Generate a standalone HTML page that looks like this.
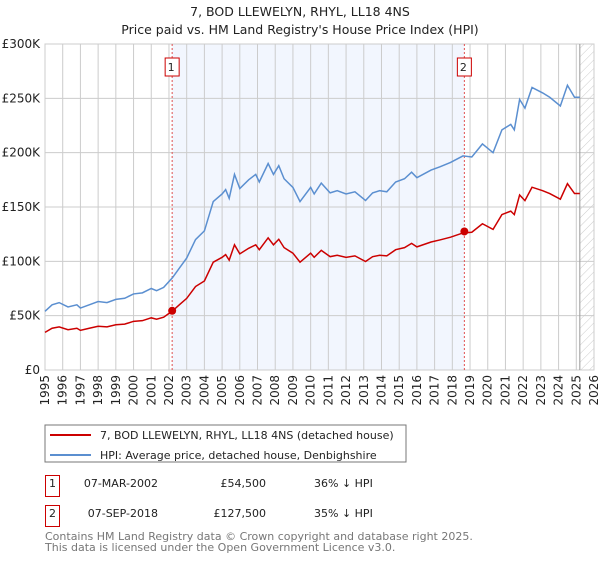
<!DOCTYPE html>
<html><head><meta charset="utf-8"><style>
body{margin:0;background:#fff;font-family:"Liberation Sans","DejaVu Sans",sans-serif;}
svg text{font-family:"DejaVu Sans","Liberation Sans",sans-serif;}
</style></head><body>
<svg id="chart" width="600" height="560" viewBox="0 0 600 560" xmlns="http://www.w3.org/2000/svg">
<defs><pattern id="hatch" width="6" height="6" patternUnits="userSpaceOnUse" patternTransform="rotate(45)"><line x1="0" y1="0" x2="0" y2="6" stroke="#ccc" stroke-width="1"/></pattern></defs>
<text x="300" y="16" text-anchor="middle" font-size="12.5" fill="#222">7, BOD LLEWELYN, RHYL, LL18 4NS</text>
<text x="300" y="34" text-anchor="middle" font-size="12.5" fill="#222">Price paid vs. HM Land Registry's House Price Index (HPI)</text>
<g id="plot"></g>
<rect x="45" y="425" width="361" height="37" fill="#fff" stroke="#777"/>
<line x1="50" y1="435" x2="91" y2="435" stroke="#cc0000" stroke-width="2"/>
<text x="100" y="439" font-size="11" fill="#222">7, BOD LLEWELYN, RHYL, LL18 4NS (detached house)</text>
<line x1="50" y1="455" x2="91" y2="455" stroke="#5b8fd0" stroke-width="2"/>
<text x="100" y="459" font-size="11" fill="#222">HPI: Average price, detached house, Denbighshire</text>
<g>
<rect x="45.5" y="475.5" width="14" height="21" fill="#fff" stroke="#cc0000"/>
<text x="52.5" y="487" text-anchor="middle" font-size="11" fill="#222">1</text>
<text x="158" y="487" text-anchor="end" font-size="11" fill="#222">07-MAR-2002</text>
<text x="266" y="487" text-anchor="end" font-size="11" fill="#222">£54,500</text>
<text x="314" y="487" font-size="11" fill="#222">36% ↓ HPI</text>
</g>
<g>
<rect x="45.5" y="505.5" width="14" height="21" fill="#fff" stroke="#cc0000"/>
<text x="52.5" y="517" text-anchor="middle" font-size="11" fill="#222">2</text>
<text x="158" y="517" text-anchor="end" font-size="11" fill="#222">07-SEP-2018</text>
<text x="266" y="517" text-anchor="end" font-size="11" fill="#222">£127,500</text>
<text x="314" y="517" font-size="11" fill="#222">35% ↓ HPI</text>
</g>
<text x="45" y="540" font-size="11" fill="#777">Contains HM Land Registry data © Crown copyright and database right 2025.</text>
<text x="45" y="551" font-size="11" fill="#777">This data is licensed under the Open Government Licence v3.0.</text>
</svg>
<script>
const hpiYears=[1995.0,1995.4,1995.8,1996.3,1996.8,1997.0,1997.5,1998.0,1998.5,1999.0,1999.5,2000.0,2000.5,2001.0,2001.3,2001.7,2002.2,2002.6,2003.0,2003.5,2004.0,2004.5,2005.0,2005.2,2005.4,2005.7,2006.0,2006.5,2006.9,2007.1,2007.6,2007.9,2008.2,2008.5,2009.0,2009.4,2010.0,2010.2,2010.6,2011.1,2011.5,2012.0,2012.5,2013.1,2013.5,2013.9,2014.3,2014.8,2015.3,2015.7,2016.0,2016.8,2017.3,2017.9,2018.6,2019.1,2019.7,2020.3,2020.8,2021.3,2021.5,2021.8,2022.1,2022.5,2023.1,2023.5,2024.1,2024.5,2024.9,2025.2];
const hpiValues=[54,60,62,58,60,57,60,63,62,65,66,70,71,75,73,76,85,94,103,120,128,155,162,166,158,180,167,175,180,173,190,180,188,176,168,155,168,162,172,163,165,162,164,156,163,165,164,173,176,182,177,184,187,191,197,196,208,200,221,226,221,249,241,260,255,251,243,262,251,251];
const propertyValues=[34.6,38.4,39.7,37.1,38.4,36.5,38.4,40.3,39.7,41.6,42.2,44.8,45.4,48,46.7,48.6,54.4,60.2,65.9,76.8,81.9,99.2,103.7,106.2,101.1,115.2,106.9,112,115.2,110.7,121.6,115.2,120.3,112.6,107.5,99.2,107.5,103.7,110.1,104.3,105.6,103.7,105,99.8,104.3,105.6,105,110.7,112.6,116.5,113.3,117.8,119.7,122.2,126.1,126.8,134.6,129.4,143,146.2,143,161.1,155.9,168.2,165,162.4,157.2,171.5,162.4,162.4];
const saleYears=[2002.18,2018.68];
const saleValues=[54.5,127.5];
const saleLabels=["1","2"];
const yTicks=[0,50,100,150,200,250,300];
const yTickLabels=["£0","£50K","£100K","£150K","£200K","£250K","£300K"];
const xTicks=[1995,1996,1997,1998,1999,2000,2001,2002,2003,2004,2005,2006,2007,2008,2009,2010,2011,2012,2013,2014,2015,2016,2017,2018,2019,2020,2021,2022,2023,2024,2025,2026];

const X0=45,X1=594,Y0=370,Y1=44;
const xs=y=>X0+(y-1995)/(2026-1995)*(X1-X0);
const ys=v=>Y0-v/300*(Y0-Y1);
const NS="http://www.w3.org/2000/svg";
const g=document.getElementById('plot');
function mk(t,a){const e=document.createElementNS(NS,t);for(const k in a)e.setAttribute(k,a[k]);g.appendChild(e);return e;}

const shade=mk('rect',{x:xs(saleYears[0]),y:Y1,width:xs(saleYears[1])-xs(saleYears[0]),height:Y0-Y1,fill:'#f2f6fe'});


const hatch=mk('rect',{x:xs(2025.2),y:Y1,width:X1-xs(2025.2),height:Y0-Y1,fill:'url(#hatch)'});



xTicks.forEach(t=>{
  const l=mk('line',{x1:xs(t),x2:xs(t),y1:Y1,y2:Y0,stroke:'#ccc','stroke-width':1});
  
  
  const tx=mk('text',{x:0,y:0,'font-size':12,fill:'#222','text-anchor':'end',transform:`translate(${xs(t)+4},${Y0+5}) rotate(-90)`});
  tx.textContent=t;
  
  
});
yTicks.forEach((t,i)=>{
  const l=mk('line',{x1:X0,x2:X1,y1:ys(t),y2:ys(t),stroke:'#ccc','stroke-width':1});
  
  
  const tx=mk('text',{x:40,y:ys(t)+4,'font-size':12,fill:'#222','text-anchor':'end'});
  tx.textContent=yTickLabels[i];
  
  
});
const border=mk('rect',{x:X0,y:Y1,width:X1-X0,height:Y0-Y1,fill:'none',stroke:'#ccc'});


const nowLine=mk('line',{x1:xs(2025.2),x2:xs(2025.2),y1:Y1,y2:Y0,stroke:'#999','stroke-width':1});



saleYears.forEach((s,i)=>{
  const l=mk('line',{x1:xs(s),x2:xs(s),y1:Y1,y2:Y0,stroke:'#e05050','stroke-width':1,'stroke-dasharray':'2,2'});
  
  
  const r=mk('rect',{x:xs(s)-7,y:58,width:14,height:18,fill:'#fff',stroke:'#cc0000'});
  
  
  const tx=mk('text',{x:xs(s)-1,y:71,'font-size':11,fill:'#222','text-anchor':'middle'});
  tx.textContent=saleLabels[i];
  
  
});

const hp=mk('polyline',{points:hpiYears.map((y,i)=>xs(y)+','+ys(hpiValues[i])).join(' '),fill:'none',stroke:'#5b8fd0','stroke-width':1.5});


const pp=mk('polyline',{points:hpiYears.map((y,i)=>xs(y)+','+ys(propertyValues[i])).join(' '),fill:'none',stroke:'#cc0000','stroke-width':1.5});


saleYears.forEach((s,i)=>{
  const c=mk('circle',{cx:xs(s),cy:ys(saleValues[i]),r:4,fill:'#cc0000'});
  
  
});
</script>
</body></html>
